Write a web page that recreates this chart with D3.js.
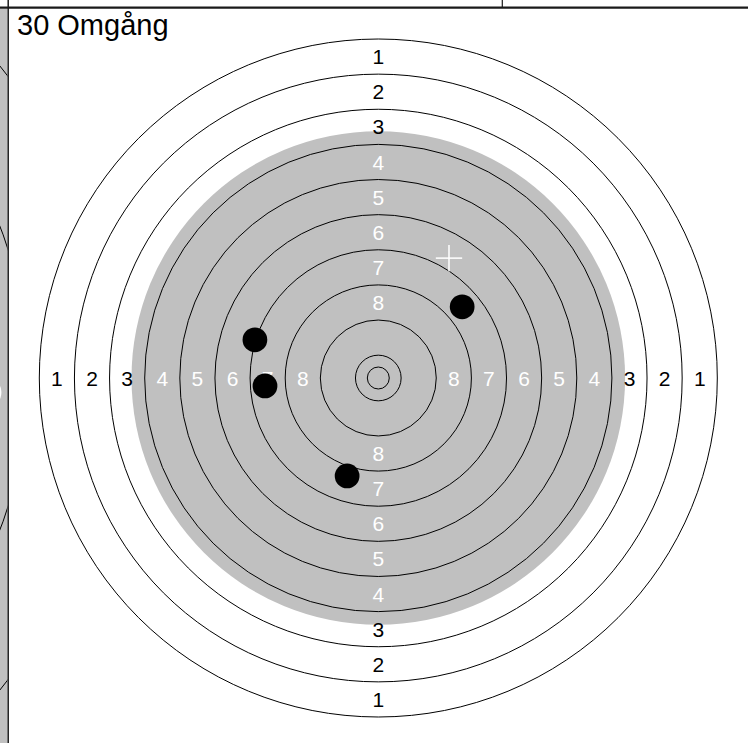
<!DOCTYPE html>
<html>
<head>
<meta charset="utf-8">
<script src="https://cdn.jsdelivr.net/npm/d3@7"></script>
<style>
  html, body { margin: 0; padding: 0; background: #fff; }
  svg { display: block; }
  text { font-family: "Liberation Sans", Arial, sans-serif; }
</style>
</head>
<body>
<svg id="chart" width="748" height="743"></svg>
<script>
// ---- data (ISSF 50 m rifle target, millimetres) ----
const title = "30 Omgång";
const ringScores = [1, 2, 3, 4, 5, 6, 7, 8, 9, 10];
const ringRadiiMm = [77.2, 69.2, 61.2, 53.2, 45.2, 37.2, 29.2, 21.2, 13.2, 5.2];
const innerTenMm = 2.5;
const blackRadiusMm = 56.2;
const labelScores = [1, 2, 3, 4, 5, 6, 7, 8];
const darkLabelMax = 3;              // labels 1..3 drawn black, others white
const shotX = [-28.1, -25.8, -7.1, 19.1];   // mm, right positive
const shotY = [8.7, -1.8, -22.3, 16.2];     // mm, up positive
const shotRadiusMm = 2.82;
const markX = [16.1];
const markY = [27.3];
const markHalfMm = 3.0;
// neighbouring panel peeking in at the left edge
const neighbourRings = [505, 425];
const neighbourLabel = "5";

// ---- layout ----
const W = 748, H = 743;
const cx = 378.3, cy = 378;
const svg = d3.select("#chart");

const rScale = d3.scaleLinear().domain([0, 77.2]).range([0, 339]);
const x = d3.scaleLinear().domain([-100, 100]).range([cx - rScale(100), cx + rScale(100)]);
const y = d3.scaleLinear().domain([-100, 100]).range([cy + rScale(100), cy - rScale(100)]);

// left strip (neighbour panel)
const defs = svg.append("defs");
defs.append("clipPath").attr("id", "stripClip")
  .append("rect").attr("x", 0).attr("y", 8.7).attr("width", 7.5).attr("height", H);
const strip = svg.append("g").attr("clip-path", "url(#stripClip)");
strip.append("rect").attr("x", 0).attr("y", 0).attr("width", 8).attr("height", H).attr("fill", "#c0c0c0");
strip.selectAll("circle").data(neighbourRings).join("circle")
  .attr("cx", -397).attr("cy", cy).attr("r", d => d)
  .attr("fill", "none").attr("stroke", "#000").attr("stroke-width", 1);
strip.append("text").attr("x", 4).attr("y", 384).attr("dy", "0.35em")
  .attr("text-anchor", "end").attr("font-size", 62).attr("fill", "#fff").text(neighbourLabel);

// main target
const target = svg.append("g");
target.append("circle").attr("cx", cx).attr("cy", cy).attr("r", rScale(blackRadiusMm)).attr("fill", "#c0c0c0");
target.selectAll("circle.ring").data(ringRadiiMm.concat([innerTenMm])).join("circle")
  .attr("class", "ring")
  .attr("cx", cx).attr("cy", cy).attr("r", d => rScale(d))
  .attr("fill", "none").attr("stroke", "#000").attr("stroke-width", 1);

// ring labels in four directions
const labelData = [];
labelScores.forEach(s => {
  const i = ringScores.indexOf(s);
  const rm = (ringRadiiMm[i] + ringRadiiMm[i + 1]) / 2;
  [[1, 0], [-1, 0], [0, 1], [0, -1]].forEach(([dx, dy]) => labelData.push({ s, mx: dx * rm, my: dy * rm }));
});
target.selectAll("text.lbl").data(labelData).join("text")
  .attr("class", "lbl")
  .attr("x", d => x(d.mx)).attr("y", d => y(d.my)).attr("dy", "0.36em")
  .attr("text-anchor", "middle").attr("font-size", 21)
  .attr("fill", d => d.s <= darkLabelMax ? "#000" : "#fff")
  .text(d => d.s);

// mark (+)
markX.forEach((mx, i) => {
  const px = x(mx), py = y(markY[i]), h = rScale(markHalfMm);
  target.append("line").attr("x1", px - h).attr("x2", px + h).attr("y1", py).attr("y2", py)
    .attr("stroke", "#fff").attr("stroke-width", 1.5);
  target.append("line").attr("x1", px).attr("x2", px).attr("y1", py - h).attr("y2", py + h)
    .attr("stroke", "#fff").attr("stroke-width", 1.5);
});

// shots
target.selectAll("circle.shot").data(shotX.map((v, i) => ({ x: v, y: shotY[i] }))).join("circle")
  .attr("class", "shot")
  .attr("cx", d => x(d.x)).attr("cy", d => y(d.y)).attr("r", rScale(shotRadiusMm))
  .attr("fill", "#000");

// frame lines
svg.append("line").attr("x1", 0).attr("x2", W).attr("y1", 7.7).attr("y2", 7.7)
  .attr("stroke", "#1a1a1a").attr("stroke-width", 2.2);
svg.append("line").attr("x1", 8.2).attr("x2", 8.2).attr("y1", 0).attr("y2", H)
  .attr("stroke", "#1a1a1a").attr("stroke-width", 1.5);
svg.append("line").attr("x1", 502.3).attr("x2", 502.3).attr("y1", 0).attr("y2", 7.7)
  .attr("stroke", "#1a1a1a").attr("stroke-width", 1.2);

// title
svg.append("text").attr("x", 17).attr("y", 34.5).attr("font-size", 29).attr("fill", "#000").text(title);
</script>
</body>
</html>
